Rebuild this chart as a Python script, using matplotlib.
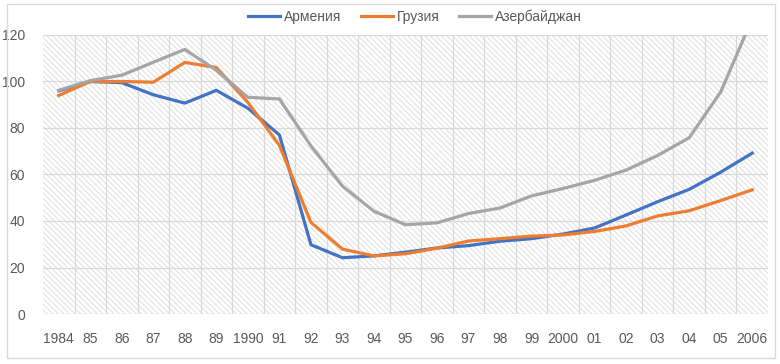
import numpy as np
import matplotlib
matplotlib.use("Agg")
import matplotlib.pyplot as plt
from matplotlib.patches import Rectangle

plt.rcParams['font.family'] = ['Liberation Sans', 'DejaVu Sans']

# --- data ---
years = ['1984', '85', '86', '87', '88', '89', '1990', '91', '92', '93', '94',
         '95', '96', '97', '98', '99', '2000', '01', '02', '03', '04', '05', '2006']
armenia = [96, 100, 99.5, 94.3, 90.7, 96.2, 88.5, 77, 29.8, 24.2, 25, 26.6,
           28.4, 29.4, 31.3, 32.4, 34.4, 37, 42.6, 48.3, 53.6, 61, 69.2]
georgia = [94, 100, 100, 99.7, 108.2, 106, 91, 72.5, 39.4, 27.9, 25, 25.9,
           28.3, 31.4, 32.4, 33.5, 34, 35.5, 37.9, 42.2, 44.4, 48.8, 53.4]
azerbaijan = [96.2, 100.4, 102.7, 108.3, 113.8, 104.8, 93.2, 92.5, 72.3, 55,
              44.2, 38.4, 39.2, 43.2, 45.6, 50.8, 54, 57.5, 61.9, 68.2, 75.8,
              95.5, 127]
names = ['Армения', 'Грузия', 'Азербайджан']
colors = ['#4472C4', '#ED7D31', '#A5A5A5']
yticks = [0, 20, 40, 60, 80, 100, 120]

fig = plt.figure(figsize=(7.8, 3.64), dpi=100)
ax = fig.add_axes([43 / 780, 50 / 364, 725 / 780, 279 / 364])

# outer chart border
fig.patches.append(Rectangle((7 / 780, 6 / 364), 768 / 780, 354 / 364,
                             transform=fig.transFigure, fill=False,
                             edgecolor='#d9d9d9', linewidth=1))

x = np.arange(len(years))
n = len(years)

# hatched plot area
plt.rcParams['hatch.linewidth'] = 0.6
ax.add_patch(Rectangle((-0.5, 0), n, 120, facecolor='white',
                       edgecolor='#dadada', linewidth=0,
                       hatch='\\' * 6, zorder=0))

# gridlines
for yv in yticks[1:]:
    ax.axhline(yv, color='#d9d9d9', linewidth=0.9, zorder=1)
for xv in np.arange(0.5, n - 0.5, 1):
    ax.axvline(xv, color='#d9d9d9', linewidth=0.9, zorder=1)
ax.axhline(0, color='#d9d9d9', linewidth=1, zorder=1)

for vals, name, c in zip([armenia, georgia, azerbaijan], names, colors):
    ax.plot(x, vals, color=c, linewidth=2.3, label=name, zorder=3,
            solid_joinstyle='round')

ax.set_xlim(-0.5, n - 0.5)
ax.set_ylim(0, 120)
ax.set_xticks(x)
ax.set_xticklabels(years)
ax.set_yticks(yticks)
for s in ax.spines.values():
    s.set_visible(False)
ax.tick_params(length=0, labelsize=10, colors='#595959')
ax.tick_params(axis='x', pad=13)
ax.tick_params(axis='y', pad=13)

ax.legend(loc='upper center', bbox_to_anchor=(0.513, 1.135), ncol=3,
          frameon=False, fontsize=10, labelcolor='#595959',
          handlelength=2.3, columnspacing=1.4, handletextpad=0.3)

fig.savefig('out.png', dpi=100)
